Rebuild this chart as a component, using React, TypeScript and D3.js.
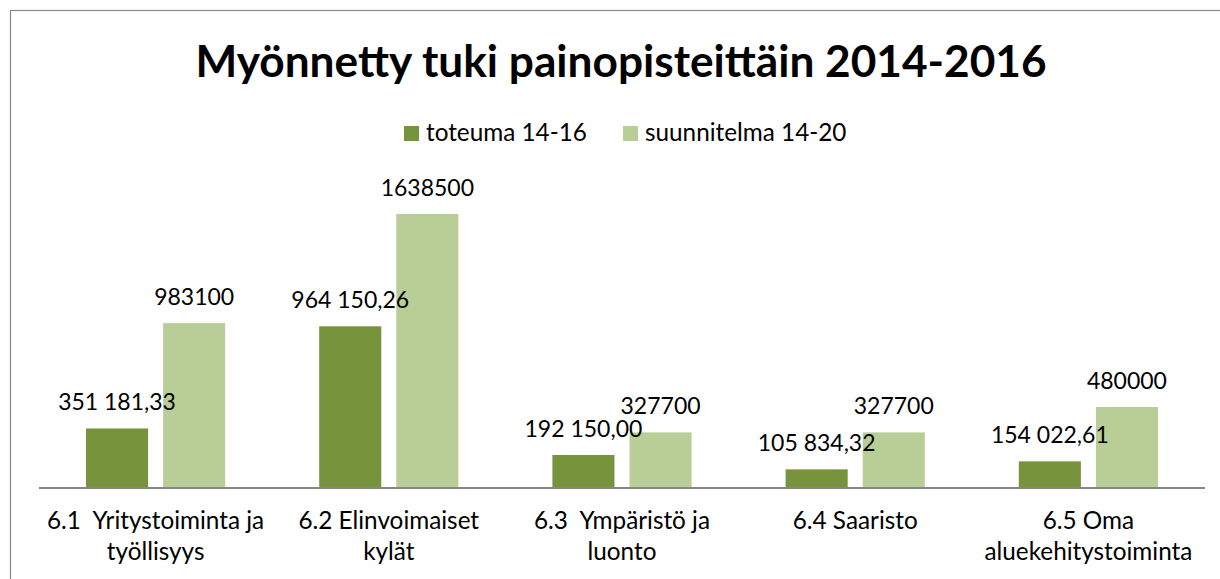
import React from "react";
import * as d3 from "d3";

const categories: string[][] = [
  ["6.1  Yritystoiminta ja", "työllisyys"],
  ["6.2 Elinvoimaiset", "kylät"],
  ["6.3  Ympäristö ja", "luonto"],
  ["6.4 Saaristo"],
  ["6.5 Oma", "aluekehitystoiminta"],
];
const seriesNames = ["toteuma 14-16", "suunnitelma 14-20"];
const toteuma = [351181.33, 964150.26, 192150.0, 105834.32, 154022.61];
const suunnitelma = [983100, 1638500, 327700, 327700, 480000];
const toteumaLabels = ["351 181,33", "964 150,26", "192 150,00", "105 834,32", "154 022,61"];
const suunnitelmaLabels = ["983100", "1638500", "327700", "327700", "480000"];
const colors = ["#77933C", "#B9CD96"];
const title = "Myönnetty tuki painopisteittäin 2014-2016";

const W = 1220;
const H = 579;
const FONT = "Lato, 'Liberation Sans', sans-serif";

export default function App() {
  const catKeys = categories.map((_, i) => String(i));
  const x0 = d3
    .scaleBand<string>()
    .domain(catKeys)
    .range([39, 1205])
    .paddingInner(94 / 233.2)
    .paddingOuter(47 / 233.2);
  const x1 = d3
    .scaleBand<string>()
    .domain(seriesNames)
    .range([0, x0.bandwidth()])
    .paddingInner(15 / 77);
  const y = d3.scaleLinear().domain([0, 1800000]).range([487, 187]);

  const series = [
    { name: seriesNames[0], values: toteuma, labels: toteumaLabels, color: colors[0] },
    { name: seriesNames[1], values: suunnitelma, labels: suunnitelmaLabels, color: colors[1] },
  ];

  const fsData = 23;
  const fsText = 24.3;

  return (
    <svg
      width={W}
      height={H}
      style={{ position: "absolute", left: 0, top: 0, background: "#fff" }}
      fontFamily={FONT}
    >
      <rect x={0} y={0} width={W} height={H} fill="#fff" />
      <rect x={10.5} y={10.5} width={1300} height={800} fill="none" stroke="#898989" strokeWidth={1.2} />
      <text x={621} y={77} textAnchor="middle" fontWeight="bold" fontSize={44.2} fill="#000">
        {title}
      </text>
      {/* legend */}
      <g>
        <rect x={404} y={126} width={15} height={15} fill={colors[0]} />
        <text x={426} y={141} fontSize={fsText} fill="#000">{seriesNames[0]}</text>
        <rect x={623} y={126} width={15} height={15} fill={colors[1]} />
        <text x={645} y={141} fontSize={fsText} fill="#000">{seriesNames[1]}</text>
      </g>
      {/* bars */}
      {series.map((s) => (
        <g key={s.name}>
          {s.values.map((v, i) => {
            const bx = (x0(String(i)) as number) + (x1(s.name) as number);
            return (
              <rect
                key={i}
                x={bx}
                y={y(v)}
                width={x1.bandwidth()}
                height={y(0) - y(v)}
                fill={s.color}
              />
            );
          })}
        </g>
      ))}
      {/* axis line */}
      <line x1={39} x2={1205} y1={488} y2={488} stroke="#868686" strokeWidth={2} />
      {/* data labels */}
      {series.map((s) => (
        <g key={s.name + "l"}>
          {s.values.map((v, i) => {
            const cx = (x0(String(i)) as number) + (x1(s.name) as number) + x1.bandwidth() / 2;
            return (
              <text key={i} x={cx} y={y(v) - 18} textAnchor="middle" fontSize={fsData} fill="#000">
                {s.labels[i]}
              </text>
            );
          })}
        </g>
      ))}
      {/* category labels */}
      {categories.map((lines, i) => {
        const cx = (x0(String(i)) as number) + x0.bandwidth() / 2;
        return (
          <text key={i} x={cx} y={529} textAnchor="middle" fontSize={fsText} fill="#000" style={{ whiteSpace: "pre" }}>
            {lines.map((l, j) => (
              <tspan key={j} x={cx} y={529 + j * 31}>
                {l}
              </tspan>
            ))}
          </text>
        );
      })}
    </svg>
  );
}
